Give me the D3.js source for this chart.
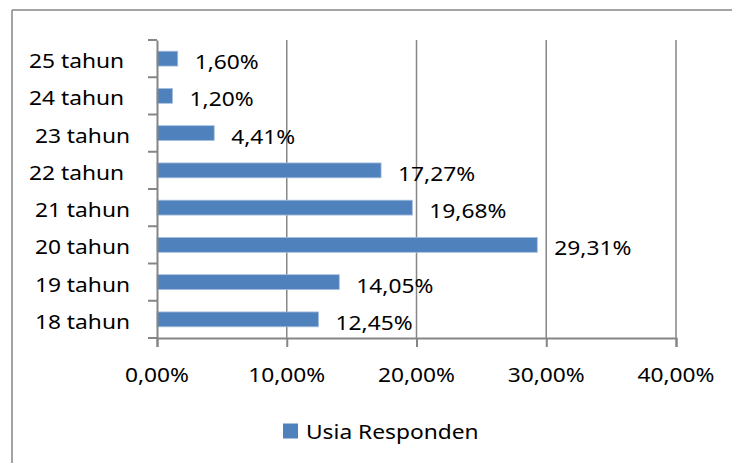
<!DOCTYPE html>
<html>
<head>
<meta charset="utf-8">
<script src="https://cdn.jsdelivr.net/npm/d3@7"></script>
<style>
  html, body { margin: 0; padding: 0; background: #fff; }
  svg text { font-family: "Noto Sans", "Open Sans", sans-serif; fill: #000; white-space: pre; }
</style>
</head>
<body>
<svg id="chart" width="732" height="463"></svg>
<script>
// ---- data ----
const categories = ["18 tahun", "19 tahun", "20 tahun", "21 tahun", "22 tahun ", "23 tahun", "24 tahun ", "25 tahun "];
const values = [12.45, 14.05, 29.31, 19.68, 17.27, 4.41, 1.20, 1.60];
const valueLabels = ["12,45%", "14,05%", "29,31%", "19,68%", "17,27%", "4,41%", "1,20%", "1,60%"];
const tickValues = [0, 10, 20, 30, 40];
const tickLabels = ["0,00%", "10,00%", "20,00%", "30,00%", "40,00%"];
const seriesName = "Usia Responden";

// ---- layout ----
const FS = 20.5, SX = 1.11;
const axisColor = "#868686";
const barColor = "#4F81BD";
const svg = d3.select("#chart");

const x = d3.scaleLinear().domain([0, 40]).range([157, 676]);
const y = d3.scaleBand().domain(categories).range([338, 40]).paddingInner(0.6).paddingOuter(0.3);

function txt(g, px, py, s, anchor) {
  return g.append("text")
    .attr("transform", `translate(${px},${py}) scale(${SX},1)`)
    .attr("text-anchor", anchor)
    .attr("font-size", FS)
    .text(s);
}

// outer frame (top + left visible)
svg.append("line").attr("x1", 12).attr("x2", 732).attr("y1", 10).attr("y2", 10)
  .attr("stroke", axisColor).attr("stroke-width", 1.5);
svg.append("line").attr("x1", 12).attr("x2", 12).attr("y1", 10).attr("y2", 463)
  .attr("stroke", axisColor).attr("stroke-width", 1.5);

// gridlines
svg.append("g").selectAll("line").data(tickValues.slice(1)).join("line")
  .attr("x1", d => x(d)).attr("x2", d => x(d))
  .attr("y1", 40).attr("y2", 338)
  .attr("stroke", axisColor).attr("stroke-width", 1.5);

// bars
svg.append("g").selectAll("rect").data(categories).join("rect")
  .attr("x", x(0))
  .attr("y", d => y(d))
  .attr("width", (d, i) => x(values[i]) - x(0))
  .attr("height", y.bandwidth())
  .attr("fill", barColor)
  .attr("stroke", "#A9C0DF").attr("stroke-width", 0.8);

// x axis
const xAxis = svg.append("g").attr("transform", "translate(0,338)")
  .call(d3.axisBottom(x).tickValues(tickValues).tickSize(9).tickFormat(""));
xAxis.select(".domain").attr("stroke", axisColor).attr("stroke-width", 2);
xAxis.selectAll(".tick line").attr("stroke", axisColor).attr("stroke-width", 2);
const xl = svg.append("g");
tickValues.forEach((t, i) => txt(xl, x(t), 382, tickLabels[i], "middle"));

// y axis line and ticks at band boundaries
const yAxis = svg.append("g").attr("transform", "translate(157,0)")
  .call(d3.axisLeft(y).tickSize(0).tickFormat(""));
yAxis.select(".domain").attr("stroke", axisColor).attr("stroke-width", 2);
yAxis.selectAll(".tick").remove();
const bounds = d3.range(categories.length + 1).map(i => 338 - i * (298 / categories.length));
svg.append("g").selectAll("line").data(bounds).join("line")
  .attr("x1", 148).attr("x2", 157).attr("y1", d => d).attr("y2", d => d)
  .attr("stroke", axisColor).attr("stroke-width", 2);

// category labels
const cl = svg.append("g");
categories.forEach(c => txt(cl, 130, y(c) + y.bandwidth() / 2 + 9.5, c, "end"));

// value labels
const vl = svg.append("g");
categories.forEach((c, i) => txt(vl, x(values[i]) + 17, y(c) + y.bandwidth() / 2 + 10.5, valueLabels[i], "start"));

// legend
svg.append("rect").attr("x", 283).attr("y", 423.5).attr("width", 15).attr("height", 15).attr("fill", barColor);
txt(svg.append("g"), 306, 439, seriesName, "start");
</script>
</body>
</html>
